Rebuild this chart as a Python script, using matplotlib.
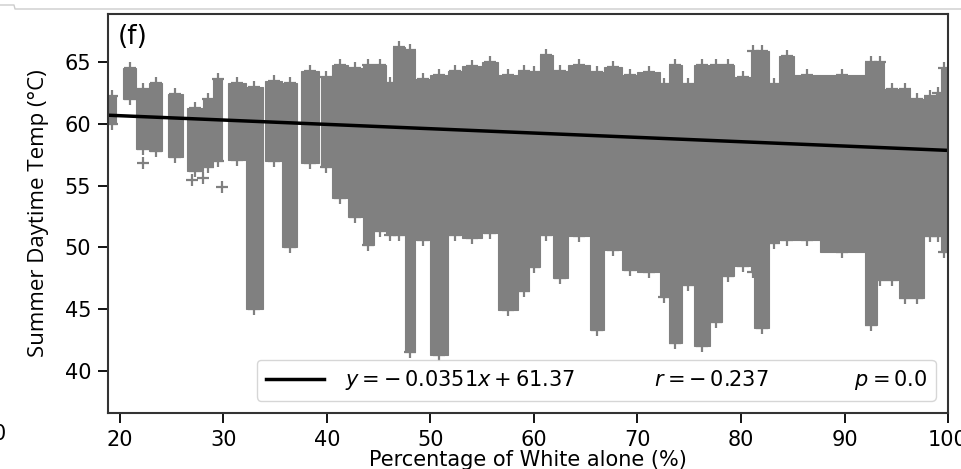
import numpy as np
import matplotlib.pyplot as plt
from matplotlib.lines import Line2D

# tract groups: % White alone range and min/max summer daytime temperature (°C)
pct_lo = [18.9, 20.3, 21.6, 22.8, 24.6, 26.5, 28.0, 29.0, 30.4, 32.2, 34.0, 35.7, 37.5,
          39.4, 40.5, 42.0, 43.5, 44.5, 45.7, 46.4, 47.5, 48.5, 50.0, 51.7, 53.0, 55.0,
          56.5, 58.5, 59.5, 60.6, 61.8, 63.3, 65.4, 66.8, 68.5, 70.0, 72.2, 73.0, 74.3,
          75.5, 77.0, 78.2, 79.3, 81.0, 81.3, 82.7, 83.7, 85.1, 87.6, 92.0, 93.1, 93.8,
          95.3, 96.3, 97.7, 98.8, 99.3]
pct_hi = [19.6, 21.6, 22.8, 24.1, 26.1, 28.0, 29.0, 29.9, 32.2, 33.8, 35.7, 37.1, 39.2,
          40.5, 42.0, 43.5, 44.5, 45.7, 46.4, 47.5, 48.5, 50.0, 51.7, 53.0, 55.0, 56.5,
          58.5, 59.5, 60.6, 61.8, 63.3, 65.4, 66.8, 68.5, 70.0, 72.2, 73.0, 74.3, 75.5,
          77.0, 78.2, 79.3, 81.0, 81.3, 82.7, 83.7, 85.1, 87.6, 92.0, 93.1, 93.8, 95.3,
          96.3, 97.7, 98.8, 99.3, 100.0]
temp_min = [60.0, 62.0, 58.0, 57.8, 57.3, 56.2, 56.5, 57.0, 57.1, 45.0, 57.0, 50.0, 56.8,
            56.5, 54.0, 52.5, 50.2, 51.3, 51.0, 51.0, 41.5, 50.6, 41.3, 51.0, 50.8, 51.2,
            44.9, 46.5, 48.4, 51.0, 47.5, 50.9, 43.3, 49.8, 48.2, 48.0, 46.0, 42.3, 47.0,
            42.0, 44.0, 47.7, 48.5, 48.0, 43.5, 50.4, 50.6, 50.6, 49.6, 43.7, 47.4, 47.4,
            45.9, 45.9, 50.9, 50.9, 49.6]
temp_max = [62.3, 64.5, 62.8, 63.3, 62.4, 61.3, 62.0, 63.6, 63.3, 63.0, 63.5, 63.3, 64.3,
            63.8, 64.8, 64.5, 64.8, 64.8, 63.3, 66.2, 66.0, 63.6, 64.0, 64.3, 64.7, 65.0,
            64.0, 64.3, 64.2, 65.6, 64.3, 64.8, 64.2, 64.6, 64.0, 64.2, 63.2, 64.8, 63.2,
            64.8, 64.8, 64.8, 63.8, 65.9, 65.9, 63.2, 65.5, 64.0, 64.0, 65.0, 65.0, 62.8,
            62.8, 62.0, 62.3, 62.5, 64.5]

# isolated outliers
out_pct = [22.2, 25.2, 27.0, 28.0, 29.9]
out_temp = [56.8, 57.8, 55.5, 55.6, 54.9]

slope = -0.0351
intercept = 61.37
r_val = -0.237
p_val = 0.0

lo = np.array(pct_lo)
hi = np.array(pct_hi)
tmin = np.array(temp_min)
tmax = np.array(temp_max)
mid = (lo + hi) / 2

fig = plt.figure(figsize=(9.61, 4.69), dpi=100)
ax = fig.add_axes([0.1124, 0.1194, 0.8741, 0.8507])

gray = '#808080'
ax.bar(lo, tmax - tmin, bottom=tmin, width=hi - lo, align='edge', color=gray,
       edgecolor=gray, linewidth=0.8)
ax.plot(mid, tmax, '+', color=gray, ms=9, mew=1.6)
ax.plot(mid, tmin, '+', color=gray, ms=9, mew=1.6)
ax.plot(out_pct, out_temp, '+', color=gray, ms=9, mew=1.6)

ax.set_xlim(18.85, 100)
ax.set_ylim(36.6, 68.9)

xs = np.array(ax.get_xlim())
lbl = (r'$y=-\,%.4fx+%.2f$' + ' ' * 12 + r'$r=-\,%.3f$' + ' ' * 13 + r'$p=%.1f$'
       ) % (abs(slope), intercept, abs(r_val), p_val)
ax.plot(xs, slope * xs + intercept, color='black', lw=2.5, label=lbl)

ax.set_xticks([20, 30, 40, 50, 60, 70, 80, 90, 100])
ax.set_yticks([40, 45, 50, 55, 60, 65])
ax.tick_params(labelsize=15, length=7, width=1.3, pad=5)
ax.set_xlabel('Percentage of White alone (%)', fontsize=15, labelpad=0)
ax.set_ylabel('Summer Daytime Temp (°C)', fontsize=16, family='Open Sans', labelpad=11)
for s in ax.spines.values():
    s.set_linewidth(1.5)
    s.set_color('#333333')

ax.text(0.012, 0.975, '(f)', transform=ax.transAxes, fontsize=19, va='top', ha='left')
ax.legend(loc='lower right', fontsize=15, handlelength=2.8, handletextpad=1.0,
          borderaxespad=0.6)

# bits of the neighbouring panel left in the crop
fig.add_artist(Line2D([0, 14 / 961, 15 / 961, 1],
                      [1 - 5 / 469, 1 - 5 / 469, 1 - 9 / 469, 1 - 9 / 469],
                      color='#cccccc', lw=1))
fig.text(-7 / 961, 1 - 434 / 469, '0', fontsize=15, va='center', ha='left')

fig.savefig('out.png', dpi=100)
